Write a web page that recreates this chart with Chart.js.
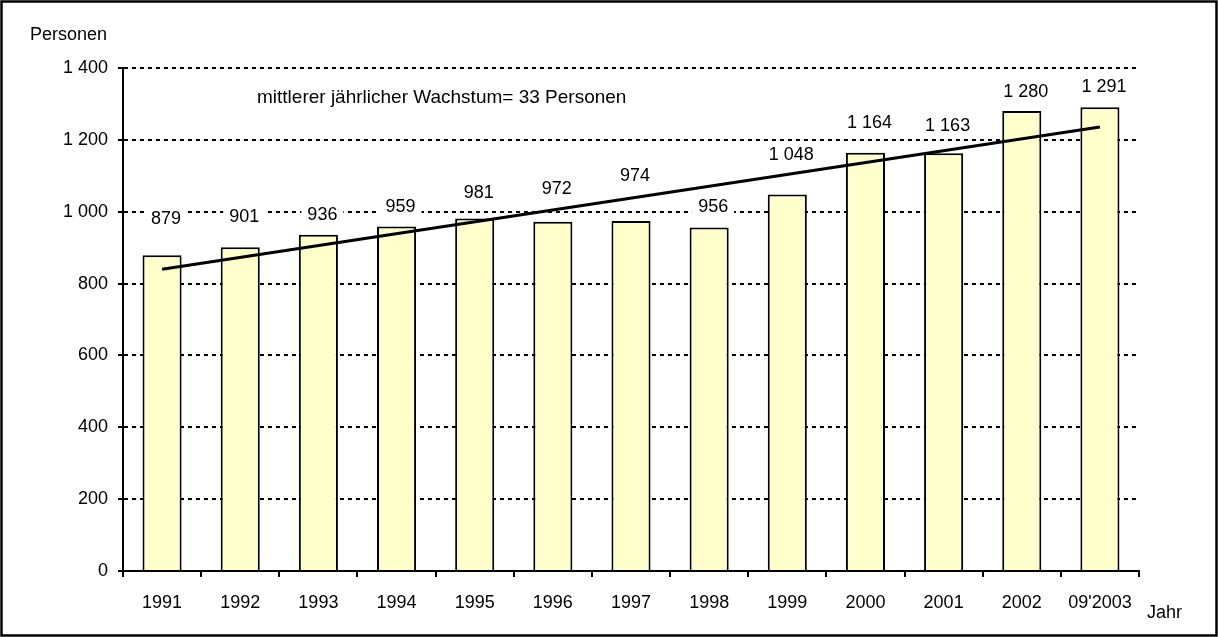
<!DOCTYPE html>
<html>
<head>
<meta charset="utf-8">
<script src="https://cdn.jsdelivr.net/npm/chart.js@4/dist/chart.umd.min.js"></script>
<style>
  body { margin: 0; background: #fff; }
  canvas { display: block; }
</style>
</head>
<body>
<canvas id="chart" width="1218" height="637"></canvas>
<script>
const years = ['1991', '1992', '1993', '1994', '1995', '1996', '1997', '1998', '1999', '2000', '2001', '2002', "09'2003"];
const persons = [879, 901, 936, 959, 981, 972, 974, 956, 1048, 1164, 1163, 1280, 1291];
const trend = [840, null, null, null, null, null, null, null, null, null, null, null, 1236];
const yTicks = [0, 200, 400, 600, 800, 1000, 1200, 1400];

const trendText = 'mittlerer jährlicher Wachstum= 33 Personen';
const fontName = '"Liberation Sans", Arial, sans-serif';

// how far (px) each value label sits above its bar, as placed in the original
const labelLift = [36, 30, 20, 19, 26, 33, 45, 20, 39, 30, 27, 19, 20];

function fmt(v) {
  return String(v).replace(/\B(?=(\d{3})+(?!\d))/g, ' ');
}

const extras = {
  id: 'extras',
  afterDatasetsDraw(chart) {
    const ctx = chart.ctx;
    const meta = chart.getDatasetMeta(0);
    ctx.save();
    ctx.font = '18px ' + fontName;
    ctx.textAlign = 'center';
    ctx.textBaseline = 'middle';
    meta.data.forEach((bar, i) => {
      const txt = fmt(persons[i]);
      const w = ctx.measureText(txt).width;
      const x = bar.x + 4;
      const y = bar.y - labelLift[i];
      ctx.fillStyle = '#fff';
      ctx.fillRect(x - w / 2 - 6, y - 11, w + 12, 22);
      ctx.fillStyle = '#000';
      ctx.fillText(txt, x, y);
    });
    ctx.restore();
  },
  afterDraw(chart) {
    const ctx = chart.ctx;
    const a = chart.chartArea;
    ctx.save();
    ctx.fillStyle = '#000';
    ctx.textBaseline = 'middle';
    ctx.textAlign = 'left';
    ctx.font = '18px ' + fontName;
    ctx.fillText('Personen', 30, 35);
    ctx.fillText('Jahr', a.right + 8, a.bottom + 42);
    ctx.font = '19px ' + fontName;
    ctx.fillText(trendText, 257, chart.scales.y.getPixelForValue(1318));
    ctx.strokeStyle = '#000';
    ctx.lineWidth = 2.5;
    ctx.strokeRect(1.5, 1.5, chart.width - 3, chart.height - 3);
    ctx.restore();
  }
};

new Chart(document.getElementById('chart').getContext('2d'), {
  type: 'bar',
  data: {
    labels: years,
    datasets: [{
      type: 'bar',
      label: 'Personen',
      data: persons,
      backgroundColor: '#FFFFCC',
      borderColor: '#000',
      borderWidth: 2,
      barPercentage: 0.5,
      categoryPercentage: 1,
      order: 2
    }, {
      type: 'line',
      label: 'Trend',
      data: trend,
      spanGaps: true,
      borderColor: '#000',
      borderWidth: 3,
      pointRadius: 0,
      fill: false,
      order: 1
    }]
  },
  options: {
    responsive: false,
    animation: false,
    layout: { padding: { top: 68, right: 79, left: 0, bottom: 0 } },
    plugins: {
      legend: { display: false },
      tooltip: { enabled: false }
    },
    scales: {
      x: {
        grid: {
          drawOnChartArea: false,
          drawTicks: true,
          tickLength: 6,
          color: '#000',
          lineWidth: 2
        },
        border: { color: '#000', width: 2 },
        ticks: {
          color: '#000',
          font: { family: fontName, size: 18 },
          padding: 15,
          maxRotation: 0,
          autoSkip: false
        },
        afterFit(scale) { scale.height = 66; }
      },
      y: {
        min: 0,
        max: 1400,
        afterBuildTicks(scale) {
          scale.ticks = yTicks.map(v => ({ value: v }));
        },
        grid: {
          color: c => (c.tick && c.tick.value === 0 ? 'rgba(0,0,0,0)' : '#000'),
          tickColor: '#000',
          lineWidth: 2,
          tickLength: 5
        },
        border: { color: '#000', width: 2, dash: [4, 4] },
        ticks: {
          color: '#000',
          font: { family: fontName, size: 18 },
          padding: 10,
          callback: v => fmt(v)
        },
        afterFit(scale) { scale.width = 123; }
      }
    }
  },
  plugins: [extras]
});
</script>
</body>
</html>
